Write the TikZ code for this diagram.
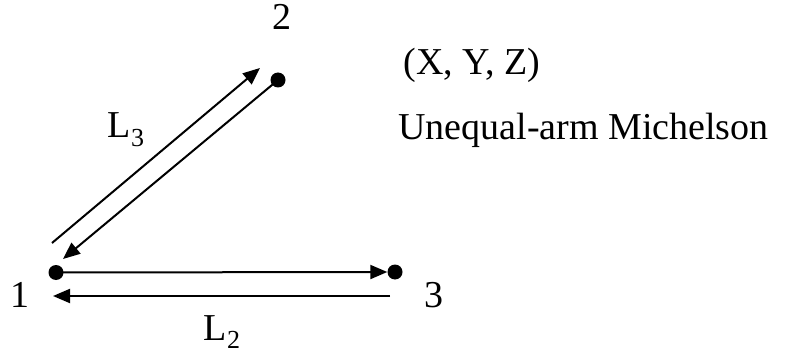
\documentclass[tikz,border=0pt]{standalone}
\usepackage{fontspec}
\setmainfont{Liberation Serif}
\usetikzlibrary{arrows.meta}
\newcommand{\lbl}[2]{#1\raisebox{-0.22em}{\fontsize{26}{26}\selectfont #2}}
\begin{document}
\begin{tikzpicture}[x=1pt,y=1pt,
  dot/.style={circle,fill=black,inner sep=0pt,minimum size=15pt},
  arm/.style={line width=2pt,-{Triangle[length=17pt,width=14pt]}},
  txt/.style={font=\fontsize{38}{40}\selectfont,inner sep=0pt,anchor=base}]
\useasboundingbox (0,0) rectangle (806,354);
\node[dot] (n1) at (56,81.5) {};
\node[dot] (n2) at (278,274) {};
\node[dot] (n3) at (395,82) {};
\coordinate (b3) at (390,58);
\coordinate (b1) at (53,58);
\coordinate (u1) at (52,111);
\coordinate (u2) at (260,286);
\coordinate (d1) at (63,95);
\draw[arm] (n1.center) -- (n3.west);
\draw[arm] (b3) -- (b1);
\draw[arm] (u1) -- (u2);
\draw[arm] (n2.center) -- (d1);
\node[txt] (t1) at (20,47) {1};
\node[txt] (t2) at (282,324) {2};
\node[txt] (t3) at (434,47) {3};
\node[txt] (l2) at (222,14) {\lbl{L}{2}};
\node[txt] (l3) at (126,216) {\lbl{L}{3}};
\node[txt] (xyz) at (472,279) {(X, Y, Z)};
\node[txt] (um) at (583.5,214) {Unequal-arm Michelson};
\end{tikzpicture}
\end{document}
